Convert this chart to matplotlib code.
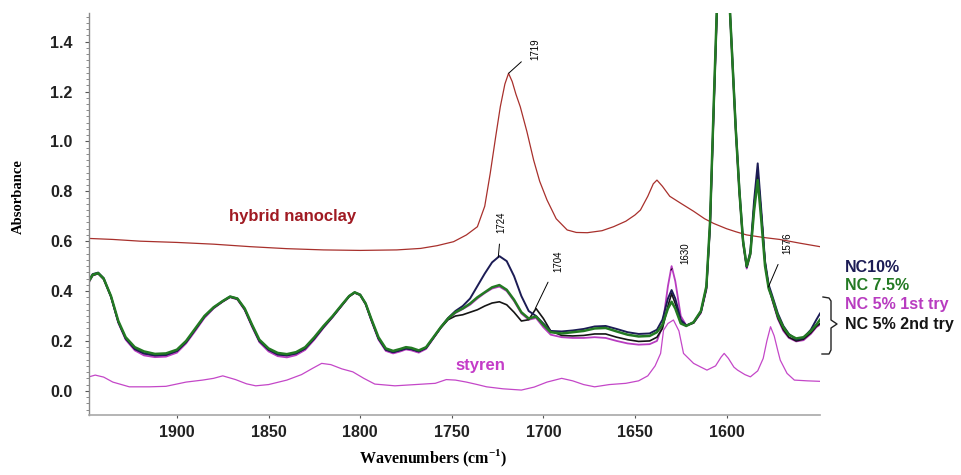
import matplotlib
matplotlib.use('Agg')
import matplotlib.pyplot as plt
from matplotlib.lines import Line2D
from matplotlib.ticker import MultipleLocator, FormatStrFormatter

plt.rcParams['font.family'] = ['Liberation Sans', 'DejaVu Sans']
plt.rcParams['mathtext.fontset'] = 'custom'
plt.rcParams['mathtext.rm'] = 'Liberation Serif:bold'
plt.rcParams['mathtext.bf'] = 'Liberation Serif:bold'

# wavenumber grid for the four nanocomposite spectra (cm-1)
wn = [1948, 1946, 1943, 1940, 1936, 1932, 1928, 1923, 1918, 1912, 1906, 1900,
      1895, 1890, 1885, 1880, 1875, 1871, 1867, 1863, 1859, 1855, 1850, 1845,
      1840, 1835, 1830, 1825, 1820, 1815, 1810, 1806, 1803, 1800, 1797, 1794,
      1790, 1786, 1782, 1778, 1775, 1772, 1768, 1764, 1760, 1756, 1752, 1748,
      1744, 1740, 1736, 1732, 1728, 1724, 1720, 1716, 1712, 1708, 1704, 1700,
      1696, 1690, 1684, 1678, 1672, 1666, 1660, 1654, 1648, 1642, 1638, 1635,
      1632, 1630, 1628, 1625, 1622, 1618, 1614, 1611, 1609, 1607, 1605, 1603,
      1601, 1599, 1597, 1595, 1593, 1591, 1589, 1587, 1585, 1583, 1581, 1579,
      1577, 1575, 1572, 1569, 1566, 1562, 1558, 1554, 1551, 1549]

nc75 = [.440, .465, .472, .450, .380, .280, .215, .175, .158, .148, .150, .165,
        .200, .250, .300, .335, .360, .378, .370, .330, .265, .205, .170, .152,
        .147, .155, .175, .215, .260, .300, .345, .380, .395, .385, .350, .290,
        .215, .170, .160, .168, .175, .172, .162, .175, .215, .255, .290, .315,
        .330, .350, .375, .395, .415, .424, .405, .365, .315, .290, .298, .265,
        .235, .230, .235, .240, .250, .252, .238, .225, .218, .220, .235, .265,
        .330, .357, .330, .270, .260, .275, .320, .420, .680, 1.15, 1.60, 1.78,
        1.80, 1.65, 1.35, 1.05, .800, .600, .500, .550, .720, .845, .680, .500,
        .410, .370, .300, .255, .225, .210, .215, .240, .265, .285]

nc10 = [.445, .468, .474, .452, .378, .276, .210, .168, .150, .142, .144, .160,
        .195, .246, .297, .333, .360, .378, .370, .328, .262, .200, .165, .146,
        .142, .150, .170, .210, .256, .298, .344, .380, .395, .386, .350, .288,
        .210, .165, .155, .163, .170, .167, .158, .172, .213, .255, .292, .320,
        .340, .370, .420, .470, .515, .540, .520, .460, .380, .320, .300, .270,
        .240, .238, .242, .248, .258, .260, .248, .235, .228, .230, .245, .285,
        .370, .404, .370, .285, .262, .275, .318, .415, .670, 1.14, 1.59, 1.77,
        1.79, 1.65, 1.36, 1.06, .810, .605, .497, .560, .760, .912, .720, .520,
        .425, .380, .310, .260, .228, .205, .212, .245, .285, .310]

nc5_1 = [.435, .462, .470, .447, .376, .272, .205, .162, .142, .135, .137, .153,
         .190, .240, .292, .330, .357, .375, .366, .323, .256, .195, .158, .139,
         .134, .143, .164, .205, .252, .295, .341, .378, .393, .383, .346, .283,
         .205, .160, .150, .158, .166, .162, .153, .168, .210, .252, .288, .312,
         .328, .345, .370, .392, .410, .418, .400, .360, .310, .285, .292, .255,
         .225, .215, .212, .212, .215, .212, .200, .190, .185, .187, .200, .260,
         .420, .500, .440, .300, .262, .272, .312, .405, .660, 1.12, 1.57, 1.75,
         1.77, 1.63, 1.34, 1.04, .790, .590, .490, .545, .730, .870, .700, .510,
         .415, .362, .288, .240, .212, .198, .203, .228, .255, .265]

nc5_2 = [.440, .463, .470, .448, .378, .276, .210, .168, .150, .142, .144, .160,
         .195, .246, .297, .333, .358, .376, .368, .326, .260, .200, .165, .146,
         .142, .150, .170, .210, .255, .297, .342, .378, .393, .384, .348, .286,
         .210, .165, .155, .163, .170, .167, .158, .172, .212, .252, .285, .300,
         .305, .315, .325, .340, .352, .357, .345, .315, .280, .285, .330, .290,
         .240, .222, .220, .222, .228, .228, .215, .205, .198, .200, .215, .250,
         .340, .390, .350, .280, .262, .272, .315, .410, .665, 1.13, 1.58, 1.76,
         1.78, 1.64, 1.35, 1.05, .795, .595, .495, .550, .740, .880, .705, .515,
         .415, .365, .292, .245, .215, .200, .207, .232, .258, .270]

# hybrid nanoclay spectrum
hyb_wn = [1948, 1935, 1920, 1900, 1880, 1860, 1840, 1820, 1800, 1780, 1767,
          1758, 1749, 1742, 1736, 1732, 1729, 1726, 1723.5, 1721, 1719, 1717,
          1715, 1712.6, 1709, 1705.3, 1702, 1698, 1693, 1687, 1682, 1676, 1668,
          1661.7, 1655, 1650, 1647, 1643, 1640, 1638, 1635, 1631, 1625, 1618,
          1612, 1607, 1600, 1595, 1589, 1580, 1571, 1560, 1549]
hyb_abs = [.611, .607, .600, .595, .588, .578, .570, .565, .563, .565, .571,
           .582, .598, .625, .658, .740, .872, 1.02, 1.139, 1.23, 1.273, 1.24,
           1.19, 1.139, 1.04, .925, .840, .765, .690, .645, .635, .634, .642,
           .658, .680, .705, .725, .780, .830, .845, .820, .780, .752, .720,
           .690, .671, .650, .638, .625, .615, .607, .592, .578]

# styrene spectrum
sty_wn = [1948, 1944.6, 1940, 1935, 1926, 1915, 1906, 1895, 1886, 1880, 1875,
          1868, 1862, 1857, 1850, 1840, 1832, 1826, 1821, 1816, 1810, 1804,
          1798, 1792, 1781, 1770, 1759, 1753, 1748, 1742, 1736, 1731, 1722,
          1712, 1705, 1698, 1690, 1684, 1678, 1672, 1664, 1655, 1648, 1643,
          1639, 1636, 1634.4, 1632, 1629, 1626, 1623.5, 1618, 1614, 1610.7,
          1606, 1603, 1601.3, 1599, 1596, 1594, 1590, 1587, 1583, 1580, 1578,
          1576, 1574, 1572, 1570.7, 1567, 1563, 1556, 1549]
sty_abs = [.056, .063, .055, .035, .016, .016, .018, .035, .043, .050, .060,
           .045, .028, .020, .025, .043, .065, .090, .110, .105, .088, .076,
           .050, .027, .020, .025, .030, .045, .043, .035, .025, .016, .008,
           .003, .015, .035, .050, .040, .025, .016, .025, .030, .040, .060,
           .100, .150, .243, .270, .284, .240, .150, .110, .095, .083,
           .100, .135, .150, .130, .095, .083, .065, .056, .080, .130, .200,
           .257, .220, .160, .123, .070, .043, .040, .038]

# peak labels: (label, peak wavenumber, peak absorbance, text x, text y)
peak_labels = [('1719', 1719.0, 1.273, 1704.4, 1.37),
               ('1724', 1724.6, 0.536, 1722.9, 0.676),
               ('1704', 1704.4, 0.330, 1691.9, 0.520),
               ('1630', 1630.4, 0.484, 1622.6, 0.553),
               ('1576', 1577.2, 0.416, 1566.9, 0.592)]

series_names = ['NC10%', 'NC 7.5%', 'NC 5% 1st try', 'NC 5% 2nd try']
series_colors = ['#1c1c55', '#237a23', '#b83cc0', '#151515']

fig = plt.figure(figsize=(9.62, 4.75), dpi=100)
ax = fig.add_axes([89/962, 60/475, 731/962, 402/475])

ax.plot(hyb_wn, hyb_abs, color='#a8302c', lw=0.9)
ax.plot(sty_wn, sty_abs, color='#c447c8', lw=0.9)
ax.plot(wn, nc5_1, color=series_colors[2], lw=1.3)
ax.plot(wn, nc5_2, color=series_colors[3], lw=1.2)
ax.plot(wn, nc10, color=series_colors[0], lw=1.4)
ax.plot(wn, nc75, color=series_colors[1], lw=1.8)

for lab, px, py, tx, ty in peak_labels:
    ax.annotate(lab, xy=(px, py), xytext=(tx, ty), fontsize=7, rotation=90,
                ha='center', va='center',
                arrowprops=dict(arrowstyle='-', color='black', lw=0.7,
                                shrinkA=6, shrinkB=0))

ax.text(1837, 0.697, 'hybrid nanoclay', color='#a01a22', fontsize=12,
        fontweight='bold', ha='center', va='center')
ax.text(1734.4, 0.103, 'styren', color='#c43cc8', fontsize=12,
        fontweight='bold', ha='center', va='center')

ax.set_xlim(1948, 1549)
ax.set_ylim(-0.097, 1.515)
ax.yaxis.set_major_locator(MultipleLocator(0.2))
ax.yaxis.set_minor_locator(MultipleLocator(0.025))
ax.yaxis.set_major_formatter(FormatStrFormatter('%.1f'))
ax.set_xticks([1900, 1850, 1800, 1750, 1700, 1650, 1600])
for s in ['top', 'right']:
    ax.spines[s].set_visible(False)
ax.spines['left'].set_color('#8a8a8a')
ax.spines['bottom'].set_color('#a8a8a8')
ax.spines['left'].set_linewidth(1.0)
ax.spines['bottom'].set_linewidth(1.2)
ax.tick_params(axis='y', which='major', length=3, color='#555555', pad=9,
               labelsize=11.5)
ax.tick_params(axis='y', which='minor', length=2, color='#777777')
ax.tick_params(axis='x', which='major', length=2, color='#555555', pad=5,
               labelsize=11.5)
for t in ax.get_xticklabels() + ax.get_yticklabels():
    t.set_fontweight('bold')
    t.set_color('#222222')

fig.text(18/962, 1 - 197/475, 'Absorbance', rotation=90, ha='center',
         va='center', fontsize=10.5, fontweight='bold',
         family=['Liberation Serif', 'DejaVu Serif'])
fig.text(433/962, 1 - 458/475, r'Wavenumbers (cm$^{-1}$)', ha='center',
         va='center', fontsize=11.5, fontweight='bold',
         family=['Liberation Serif', 'DejaVu Serif'])

legend_y = [268, 285, 305, 325]
for name, col, yy in zip(series_names, series_colors, legend_y):
    fig.text(845/962, 1 - yy/475, name, color=col, fontsize=11.5,
             fontweight='bold', ha='left', va='center')

# curly brace grouping the nanocomposite labels
bx = [823, 829, 831, 831, 837, 831, 831, 829, 822]
by = [297, 298, 301, 320, 324, 328, 350, 354, 354]
fig.add_artist(Line2D([v/962 for v in bx], [1 - v/475 for v in by],
                      color='#222222', lw=1.0, transform=fig.transFigure))

fig.savefig('out.png', dpi=100)
